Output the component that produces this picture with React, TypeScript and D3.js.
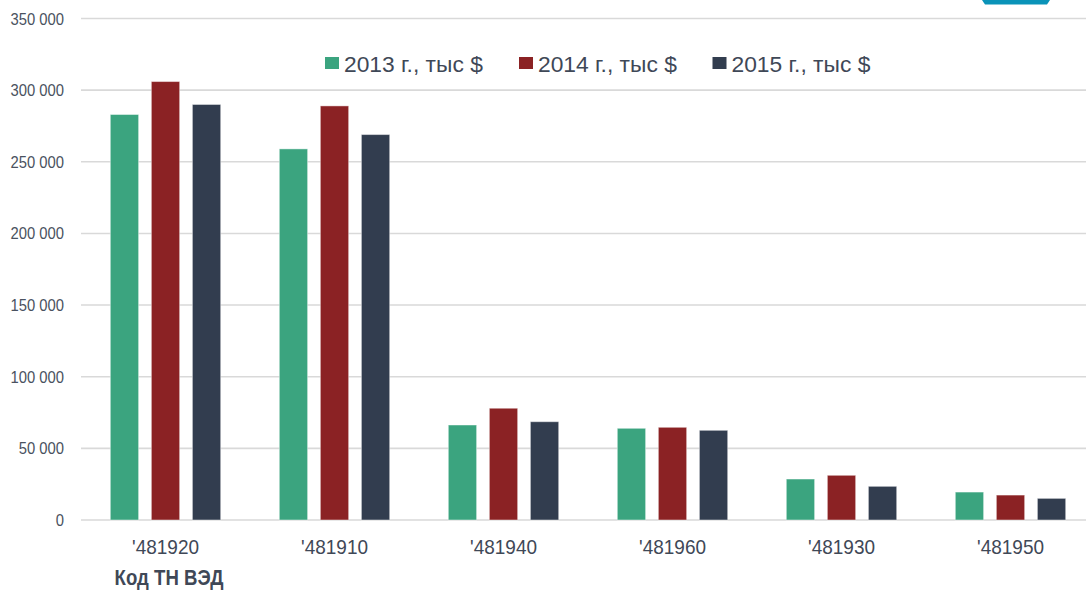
import React from "react";
import * as d3 from "d3";

const categories = ["'481920", "'481910", "'481940", "'481960", "'481930", "'481950"];
const seriesNames = ["2013 г., тыс $", "2014 г., тыс $", "2015 г., тыс $"];
const values2013 = [283000, 259000, 66300, 64000, 28600, 19500];
const values2014 = [306000, 289000, 78000, 64700, 31200, 17400];
const values2015 = [290000, 269000, 68600, 62600, 23500, 15100];
const yTicks = [0, 50000, 100000, 150000, 200000, 250000, 300000, 350000];
const colors = ["#3ba47f", "#8b2224", "#323d4f"];
const axisTitle = "Код ТН ВЭД";

const W = 1086;
const H = 592;

export default function App() {
  const series = [values2013, values2014, values2015];
  const x0 = d3.scaleBand<string>().domain(categories).range([81, 1095]).padding(0);
  const x1 = d3
    .scaleBand<string>()
    .domain(seriesNames)
    .range([29.3, 139.7])
    .paddingInner(0.31)
    .paddingOuter(0);
  const y = d3.scaleLinear().domain([0, 350000]).range([520, 18.5]);
  const fmt = (v: number) => d3.format(",")(v).replace(/,/g, " ");
  const textColor = "#3f4857";
  const legendX = [325, 519, 712.5];

  return (
    <svg
      width={W}
      height={H}
      style={{ position: "absolute", left: 0, top: 0, background: "#fff" }}
      fontFamily="'Liberation Sans', Arial, sans-serif"
    >
      <rect x={0} y={0} width={W} height={H} fill="#fff" />
      {yTicks.map((t) => (
        <g key={t}>
          <line x1={81} x2={W} y1={y(t)} y2={y(t)} stroke="#d9d9d9" strokeWidth={1.6} />
          <g transform={`translate(64,${y(t) + 6}) scale(0.87,1)`}>
            <text x={0} y={0} textAnchor="end" fontSize={17} fill="#4a5260">
              {fmt(t)}
            </text>
          </g>
        </g>
      ))}
      {categories.map((c, i) => (
        <g key={c} transform={`translate(${x0(c)},0)`}>
          {series.map((s, j) => (
            <rect
              key={j}
              x={x1(seriesNames[j])}
              y={y(s[i])}
              width={x1.bandwidth()}
              height={y(0) - y(s[i])}
              fill={colors[j]}
              stroke="#ffffff"
              strokeOpacity={0.45}
              strokeWidth={1}
            />
          ))}
          <g transform={`translate(${x0.bandwidth() / 2},554) scale(0.95,1)`}>
            <text x={0} y={0} textAnchor="middle" fontSize={20} fill={textColor}>
              {c}
            </text>
          </g>
        </g>
      ))}
      <g transform="translate(169,585) scale(0.845,1)">
        <text x={0} y={0} textAnchor="middle" fontSize={22} fontWeight="bold" fill={textColor}>
          {axisTitle}
        </text>
      </g>
      {seriesNames.map((n, j) => (
        <g key={n}>
          <rect x={legendX[j]} y={57} width={14} height={12} fill={colors[j]} />
          <text x={legendX[j] + 19} y={71.5} fontSize={22.8} fill={textColor}>
            {n}
          </text>
        </g>
      ))}
      <polygon points="982,0 1050,0 1047,4.5 985,4.5" fill="#0a93b8" />
    </svg>
  );
}
